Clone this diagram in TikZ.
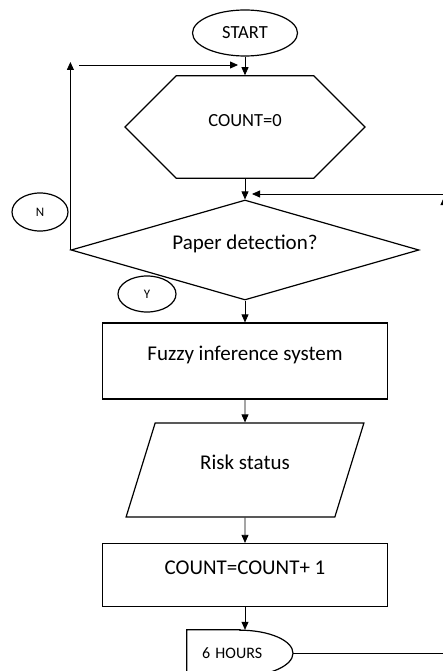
\documentclass[tikz,border=0pt]{standalone}
\usepackage{fontspec}
\setmainfont{Carlito}
\usetikzlibrary{shapes.geometric,shapes.misc,arrows.meta}
\tikzset{every node/.style={inner sep=0pt},
  box/.style={draw,line width=1.2pt,text height=14pt,text depth=15pt,font=\fontsize{21}{25}\selectfont},
  tag/.style={draw,ellipse,line width=1.2pt,font=\fontsize{13}{15}\selectfont},
  arr/.style={line width=0.8pt,-{Triangle[length=8pt,width=7pt]}}}

\begin{document}
\begin{tikzpicture}[x=1pt,y=-1pt]
  \useasboundingbox (0,0) rectangle (443,671);
      \node[draw,ellipse,line width=1.2pt,minimum width=105pt,minimum height=46pt,font=\fontsize{18.5}{22}\selectfont] (start) at (245,33) {START};
      \node[box,chamfered rectangle,chamfered rectangle xsep=48pt,chamfered rectangle ysep=46.5pt,minimum width=240pt,minimum height=93pt,font=\fontsize{18.5}{22}\selectfont] (init) at (245,127) {COUNT=0};
      \node[box,diamond,aspect=3.6,minimum width=348pt,minimum height=100pt] (dec) at (245,250) {Paper detection?};
      \node[box,minimum width=285pt,minimum height=76pt] (fis) at (245,361) {Fuzzy inference system};
      \node[box,trapezium,trapezium left angle=63.43,trapezium right angle=116.57,trapezium stretches=true,minimum width=238pt,minimum height=94pt] (risk) at (245,470) {Risk status};
      \node[box,minimum width=285pt,minimum height=63pt] (cnt) at (245,575) {COUNT=COUNT+ 1};
      \node[font=\fontsize{16}{19}\selectfont,minimum height=46pt,text width=76pt,inner xsep=15pt,align=left] (wait) at (240,653) {6 HOURS};
      \node[tag,minimum width=56pt,minimum height=38pt] (no) at (40,212) {N};
      \node[tag,minimum width=58pt,minimum height=36pt] (yes) at (147,294) {Y};
      \coordinate (ltop) at (72,62);
      \coordinate (lin) at (79,65);
      \coordinate (rbot) at (444,653);
      \coordinate (rtop) at (444,197);
      \coordinate (rin) at (444,194);

% delay shape round the waiting time
\draw[line width=1.2pt] (wait.north) -- (wait.north west) -- (wait.south west) -- (wait.south)
  arc[start angle=-90,end angle=90,x radius=53pt,y radius=23pt] -- cycle;

\foreach \a/\b in {start/init,init/dec,dec/fis,fis/risk,risk/cnt}
  \draw[arr] (\a.south) -- (\b.north);
\draw[arr] (cnt.south) -- (cnt.south |- wait.north);

% loops back
\draw[arr] (dec.west) -- (dec.west |- ltop);
\draw[arr,shorten >=7pt] (lin) -- (lin -| init.north);
\draw[arr] (wait.east) -- (rbot) -- (rtop);
\draw[arr,shorten >=7pt] (rin) -- (rin -| dec.north);
    \end{tikzpicture}
\end{document}
